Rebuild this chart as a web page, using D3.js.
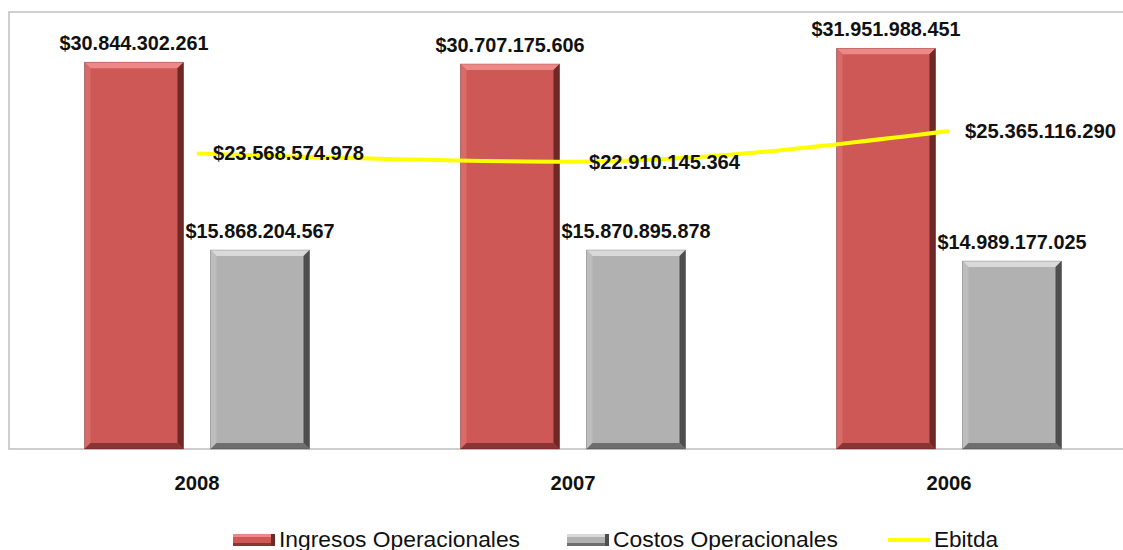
<!DOCTYPE html>
<html>
<head>
<meta charset="utf-8">
<script src="https://cdn.jsdelivr.net/npm/d3@7"></script>
<style>
  body { margin: 0; background: #fff; }
  text { font-family: Arial, "Liberation Sans", sans-serif; }
</style>
</head>
<body>
<div id="chart"></div>
<script>
// ======================================
// Data
// ======================================
var years = ["2008", "2007", "2006"];
var ingresos = [30844302261, 30707175606, 31951988451];
var costos = [15868204567, 15870895878, 14989177025];
var ebitda = [23568574978, 22910145364, 25365116290];
var seriesNames = ["Ingresos Operacionales", "Costos Operacionales", "Ebitda"];

var svgWidth = 1123;
var svgHeight = 550;

var plot = { left: 9, top: 12, right: 1137, bottom: 449 };

var svg = d3.select("#chart")
  .append("svg")
  .attr("width", svgWidth)
  .attr("height", svgHeight);

// ======================================
// Scales
// ======================================
var xScale = d3.scaleBand()
  .domain(years)
  .range([plot.left, plot.right]);

var xInner = d3.scaleBand()
  .domain(["ing", "cos"])
  .range([0, 225])
  .paddingInner(27 / 126);

var yScale = d3.scaleLinear()
  .domain([0, 34.85e9])
  .range([plot.bottom, plot.top]);

// money format with dots as thousands separator
var fmt = d3.formatLocale({ decimal: ",", thousands: ".", grouping: [3], currency: ["$", ""] }).format("$,.0f");

// ======================================
// Bevelled bar helper
// ======================================
var palettes = {
  ing: { face: "#CD5856", top: "#EE8886", left: "#D86A68", right: "#6E2826", bottom: "#8A3533" },
  cos: { face: "#B1B1B1", top: "#D9D9D9", left: "#BDBDBD", right: "#4E4E4E", bottom: "#6E6E6E" }
};

function drawBar(g, x, y, w, h, pal) {
  var b = 6;
  g.append("rect").attr("x", x).attr("y", y).attr("width", w).attr("height", h).attr("fill", pal.face);
  g.append("polygon").attr("fill", pal.top)
    .attr("points", [[x, y], [x + w, y], [x + w - b, y + b], [x + b, y + b]].join(" "));
  g.append("polygon").attr("fill", pal.left)
    .attr("points", [[x, y], [x + b, y + b], [x + b, y + h - b], [x, y + h]].join(" "));
  g.append("polygon").attr("fill", pal.right)
    .attr("points", [[x + w, y], [x + w, y + h], [x + w - b, y + h - b], [x + w - b, y + b]].join(" "));
  g.append("polygon").attr("fill", pal.bottom)
    .attr("points", [[x, y + h], [x + b, y + h - b], [x + w - b, y + h - b], [x + w, y + h]].join(" "));
  g.append("rect").attr("x", x).attr("y", y).attr("width", w).attr("height", h)
    .attr("fill", "none").attr("stroke", "rgba(0,0,0,0.25)").attr("stroke-width", 0.8);
}

// ======================================
// Plot frame
// ======================================
svg.append("path")
  .attr("d", `M${svgWidth + 5},${plot.top} H${plot.left} V${plot.bottom} H${svgWidth + 5}`)
  .attr("fill", "none")
  .attr("stroke", "#C0C0C0")
  .attr("stroke-width", 1.5);

// ======================================
// Bars
// ======================================
years.forEach(function(yr, i) {
  var groupX = xScale(yr) + xScale.bandwidth() / 2 - 112.5;
  var g = svg.append("g");
  [["ing", ingresos[i]], ["cos", costos[i]]].forEach(function(d) {
    var bx = groupX + xInner(d[0]);
    var by = yScale(d[1]);
    drawBar(g, bx, by, xInner.bandwidth(), plot.bottom - by, palettes[d[0]]);
    g.append("text")
      .attr("x", bx + xInner.bandwidth() / 2)
      .attr("y", by - 12)
      .attr("text-anchor", "middle")
      .attr("font-size", 20)
      .attr("font-weight", "bold")
      .attr("fill", "#111")
      .attr("textLength", 149)
      .attr("lengthAdjust", "spacingAndGlyphs")
      .text(fmt(d[1]));
  });
});

// ======================================
// Ebitda line
// ======================================
var line = d3.line()
  .x(function(d, i) { return xScale(years[i]) + xScale.bandwidth() / 2; })
  .y(function(d) { return yScale(d); })
  .curve(d3.curveMonotoneX);

svg.append("path")
  .datum(ebitda)
  .attr("d", line)
  .attr("fill", "none")
  .attr("stroke", "#FFFF00")
  .attr("stroke-width", 4);

svg.selectAll(".ebitda-label")
  .data(ebitda)
  .enter()
  .append("text")
  .attr("class", "ebitda-label")
  .attr("x", function(d, i) { return xScale(years[i]) + xScale.bandwidth() / 2 + 16; })
  .attr("y", function(d) { return yScale(d) + 7; })
  .attr("font-size", 20)
  .attr("font-weight", "bold")
  .attr("fill", "#111")
  .attr("textLength", 151)
  .attr("lengthAdjust", "spacingAndGlyphs")
  .text(function(d) { return fmt(d); });

// ======================================
// X axis labels
// ======================================
var xAxis = d3.axisBottom(xScale).tickSize(0).tickPadding(27);
var xAxisG = svg.append("g")
  .attr("transform", `translate(0, ${plot.bottom})`)
  .call(xAxis);
xAxisG.select(".domain").remove();
xAxisG.selectAll("text")
  .attr("font-size", 20)
  .attr("font-weight", "bold")
  .attr("fill", "#111")
  .attr("textLength", 45)
  .attr("lengthAdjust", "spacingAndGlyphs")
  .style("font-family", "Arial, 'Liberation Sans', sans-serif");

// ======================================
// Legend
// ======================================
var legendItems = [
  { name: seriesNames[0], x: 233, type: "ing", w: 241 },
  { name: seriesNames[1], x: 567, type: "cos", w: 225 },
  { name: seriesNames[2], x: 888, type: "line", w: 64 }
];
var legend = svg.append("g");
legendItems.forEach(function(it) {
  if (it.type === "line") {
    legend.append("line")
      .attr("x1", it.x).attr("x2", it.x + 42)
      .attr("y1", 540).attr("y2", 540)
      .attr("stroke", "#FFFF00").attr("stroke-width", 4);
  } else {
    var pal = palettes[it.type];
    legend.append("rect").attr("x", it.x).attr("y", 534).attr("width", 42).attr("height", 12).attr("fill", pal.face);
    legend.append("rect").attr("x", it.x).attr("y", 534).attr("width", 42).attr("height", 3).attr("fill", pal.top);
    legend.append("rect").attr("x", it.x).attr("y", 543).attr("width", 42).attr("height", 3).attr("fill", pal.bottom);
    legend.append("rect").attr("x", it.x + 38).attr("y", 534).attr("width", 4).attr("height", 12).attr("fill", pal.right);
  }
  legend.append("text")
    .attr("x", it.x + 46)
    .attr("y", 547)
    .attr("font-size", 22)
    .attr("fill", "#111")
    .attr("textLength", it.w)
    .attr("lengthAdjust", "spacingAndGlyphs")
    .text(it.name);
});
</script>
</body>
</html>
